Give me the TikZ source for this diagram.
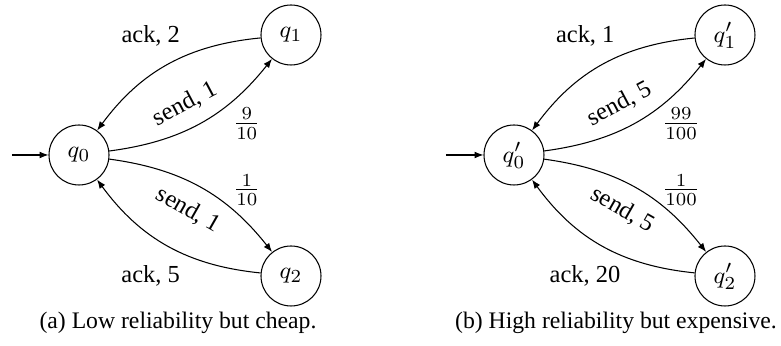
\documentclass[tikz,border=0pt]{standalone}
\usepackage[no-math]{fontspec}
\setmainfont{Liberation Serif}
\usepackage{tikz}
\usetikzlibrary{arrows.meta,positioning}
\tikzset{
  qstate/.style={draw, circle, thin, minimum size=22.8pt, inner sep=0pt},
  tarrow/.style={-{Latex[length=3.4pt, width=2.6pt]}, thin},
  tlabel/.style={inner sep=2pt},
  tprob/.style={inner sep=1pt, font=\fontsize{9.8}{11}\selectfont},
  subcap/.style={font=\fontsize{9}{11}\selectfont},
}
\begin{document}
\begin{tikzpicture}[x=0.38pt, y=0.38pt, font=\fontsize{9.3}{11}\selectfont]
  \useasboundingbox (0,0) rectangle (781,346);
  % (a) cheap
  \node[qstate] (q0) at (79,191) {$q_0$};
  \node[qstate] (q1) at (291,311) {$q_1$};
  \node[qstate] (q2) at (291,70) {$q_2$};
  \coordinate (s0) at (12,191);
  \draw[tarrow] (s0) -- (q0);
  \draw[tarrow] (q0) to[bend right=22] node[tlabel, pos=0.47, above=3pt, sloped] {send, 1} node[tprob, pos=0.72, xshift=5.1pt, yshift=-9.1pt] {$\frac{9}{10}$} (q1);
  \draw[tarrow] (q1) to[bend right=24] node[tlabel, midway, xshift=-6.5pt, yshift=11pt] {ack, 2} (q0);
  \draw[tarrow] (q0) to[bend left=22] node[tlabel, midway, below=3.5pt, sloped] {send, 1} node[tprob, pos=0.72, xshift=5.1pt, yshift=8pt] {$\frac{1}{10}$} (q2);
  \draw[tarrow] (q2) to[bend left=24] node[tlabel, midway, xshift=-6.5pt, yshift=-11.6pt] {ack, 5} (q0);
  \node[subcap] (capa) at (178,23) {(a) Low reliability but cheap.};
  % (b) expensive
  \node[qstate] (p0) at (514,191) {$q'_0$};
  \node[qstate] (p1) at (725,311) {$q'_1$};
  \node[qstate] (p2) at (725,70) {$q'_2$};
  \coordinate (s1) at (446,191);
  \draw[tarrow] (s1) -- (p0);
  \draw[tarrow] (p0) to[bend right=22] node[tlabel, pos=0.47, above=3pt, sloped] {send, 5} node[tprob, pos=0.72, xshift=5.1pt, yshift=-9.1pt] {$\frac{99}{100}$} (p1);
  \draw[tarrow] (p1) to[bend right=24] node[tlabel, midway, xshift=-6.5pt, yshift=11pt] {ack, 1} (p0);
  \draw[tarrow] (p0) to[bend left=22] node[tlabel, midway, below=3.5pt, sloped] {send, 5} node[tprob, pos=0.72, xshift=5.1pt, yshift=8pt] {$\frac{1}{100}$} (p2);
  \draw[tarrow] (p2) to[bend left=24] node[tlabel, midway, xshift=-6.5pt, yshift=-11.6pt] {ack, 20} (p0);
  \node[subcap] (capb) at (616,23) {(b) High reliability but expensive.};
\end{tikzpicture}
\end{document}
